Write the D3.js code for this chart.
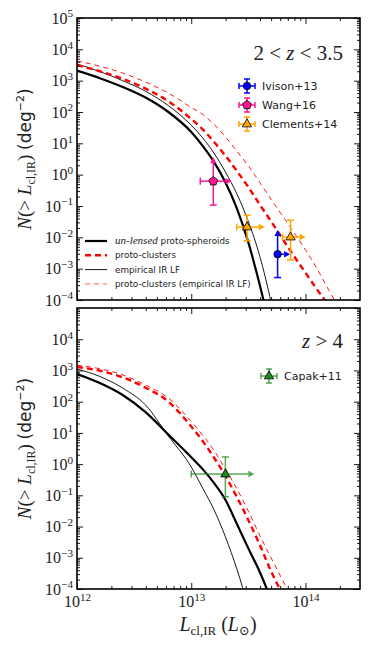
<!DOCTYPE html>
<html>
<head>
<meta charset="utf-8">
<script src="https://cdn.jsdelivr.net/npm/d3@7"></script>
<style>
  body { margin: 0; background: #fff; }
</style>
</head>
<body>
<div id="chart"></div>
<script>
// luminosity grid (L_sun) shared by the model curves
const lumGrid = [1e12, 1.585e12, 2.512e12, 3.981e12, 6.31e12, 1e13, 1.259e13, 1.585e13, 1.995e13,
                 2.512e13, 3.162e13, 3.981e13, 5.012e13, 6.31e13, 7.943e13, 1e14, 1.259e14, 1.585e14, 1.995e14];

// 2 < z < 3.5 : N(>L) in deg^-2
const topSpheroids = [2100, 1200, 630, 290, 100, 23, 8.3, 2.5, 0.56, 0.082, 6.9e-3, 3.0e-4, 1e-5];
const topEmpirical = [3400, 1950, 1000, 460, 160, 38, 15, 4.8, 1.2, 0.24, 0.032, 2.5e-3, 8e-5, 1e-6];
const topClusters = [3150, 2000, 1150, 560, 220, 60, 28, 11, 4.0, 1.3, 0.4, 0.11, 0.032, 8.9e-3, 2.5e-3, 7.4e-4, 2.2e-4, 7e-5, 2e-5];
const topClustersEmp = [4250, 2900, 1750, 900, 400, 140, 83, 40, 16, 5.6, 1.9, 0.56, 0.16, 0.048, 0.014, 4e-3, 1e-3, 2.2e-4, 5e-5];

// z > 4
const botSpheroids = [770, 395, 163, 46, 8.8, 1.66, 0.69, 0.245, 0.071, 0.012, 2.0e-3, 3.5e-4, 4.4e-5];
const botEmpirical = [1110, 640, 273, 78, 7.9, 0.81, 0.17, 0.034, 4.6e-3, 4.3e-4, 2.6e-5];
const botClusters = [1290, 980, 600, 280, 100, 16, 5.5, 1.6, 0.41, 0.087, 0.016, 2.6e-3, 3.6e-4, 6.7e-5];
const botClustersEmp = [1450, 1140, 720, 340, 130, 23, 8.5, 2.7, 0.69, 0.16, 0.031, 5.2e-3, 9.8e-4, 1.9e-4, 3.5e-5];

// observed proto-clusters
const obsNames = ['Ivison+13', 'Wang+16', 'Clements+14', 'Clements+14', 'Capak+11'];
const obsPanel = [0, 0, 0, 0, 1];
const obsL = [5.7e13, 1.56e13, 3.08e13, 7.4e13, 1.99e13];
const obsLlo = [5.7e13, 1.2e13, 2.5e13, 6.3e13, 1.0e13];
const obsLhi = [6.5e13, 2.0e13, 3.9e13, 8.9e13, 3.16e13];
const obsN = [2.9e-3, 0.62, 0.0214, 0.0102, 0.48];
const obsNlo = [5.2e-4, 0.107, 7.7e-3, 1.9e-3, 0.089];
const obsNhi = [0.011, 2.3, 0.051, 0.035, 1.7];
const obsNhiLimit = [true, true, false, false, false];  // lower limits in N (arrow up)
const obsLhiLimit = [true, true, true, true, true];     // lower limits in L (arrow right)

const xMajor = [1e12, 1e13, 1e14];
const yMajor = d3.range(-4, 6).map(e => Math.pow(10, e));

const serif = '"Liberation Serif", "DejaVu Serif", serif';
const sans = '"DejaVu Sans", sans-serif';

const width = 373, height = 648;
const plotLeft = 77, plotRight = 360;
const panels = [
    { top: 18, bottom: 300, label: ['2 < ', 'z', ' < 3.5'], labelY: 60, legend: [0, 1, 2], legendY: 86 },
    { top: 308, bottom: 589, label: ['', 'z', ' > 4'], labelY: 348, legend: [4], legendY: 376 }
];

const obsStyle = {
    'Ivison+13': { shape: 'circle', fill: '#0000ff', bar: '#0000ff' },
    'Wang+16': { shape: 'pentagon', fill: '#ff1493', bar: '#ff1493' },
    'Clements+14': { shape: 'triangle', fill: '#ffa500', bar: '#ffa500' },
    'Capak+11': { shape: 'triangle', fill: '#1f8a1f', bar: 'rgba(34,139,34,0.75)' }
};

const curveStyles = [
    { key: 'spheroids', stroke: '#000', width: 2.2, dash: null },
    { key: 'clusters', stroke: '#ff0000', width: 2.4, dash: '6,4' },
    { key: 'empirical', stroke: '#000', width: 0.9, dash: null },
    { key: 'clustersEmp', stroke: '#ff0000', width: 0.9, dash: '5,4' }
];
const panelCurves = [
    { spheroids: topSpheroids, clusters: topClusters, empirical: topEmpirical, clustersEmp: topClustersEmp },
    { spheroids: botSpheroids, clusters: botClusters, empirical: botEmpirical, clustersEmp: botClustersEmp }
];

const svg = d3.select('#chart').append('svg')
    .attr('width', width)
    .attr('height', height);

const x = d3.scaleLog().domain([1e12, 3e14]).range([plotLeft, plotRight]);

const minorTicks = (lo, hi, maxV) => {
    const out = [];
    for (let e = lo; e <= hi; e++) {
        for (let k = 2; k <= 9; k++) {
            const v = k * Math.pow(10, e);
            if (v < maxV) out.push(v);
        }
    }
    return out;
};
const xMinor = minorTicks(12, 14, 3e14);
const yMinor = minorTicks(-4, 4, 1e5);

const supFormat = (sel, fontSize) => {
    sel.each(function (d) {
        const t = d3.select(this);
        const e = Math.round(Math.log10(d));
        t.text(null);
        t.append('tspan').text('10');
        t.append('tspan').attr('dy', '-0.55em').attr('font-size', fontSize * 0.7)
            .text(String(e).replace('-', '\u2212'));
    });
};

// marker helpers
const markerPath = shape => {
    if (shape === 'circle') return d3.symbol(d3.symbolCircle, 44)();
    if (shape === 'triangle') {
        const r = 5.2;
        return `M0,${-r}L${r * 0.9},${r * 0.55}L${-r * 0.9},${r * 0.55}Z`;
    }
    const r = 4.6;
    const pts = d3.range(5).map(k => {
        const a = -Math.PI / 2 + k * 2 * Math.PI / 5;
        return [r * Math.cos(a), r * Math.sin(a)];
    });
    return 'M' + pts.map(p => p.join(',')).join('L') + 'Z';
};
const arrowHead = (g, x0, y0, dir, color) => {
    const len = 6, hw = 3.2;
    let pts;
    if (dir === 'up') pts = [[x0, y0 - len], [x0 - hw, y0], [x0 + hw, y0]];
    else pts = [[x0 + len, y0], [x0, y0 - hw], [x0, y0 + hw]];
    g.append('path').attr('d', 'M' + pts.map(p => p.join(',')).join('L') + 'Z').attr('fill', color);
};
const capLine = (g, x1, y1, x2, y2, color) => {
    g.append('line').attr('x1', x1).attr('y1', y1).attr('x2', x2).attr('y2', y2)
        .attr('stroke', color).attr('stroke-width', 1.5);
};

panels.forEach((p, pi) => {
    const y = d3.scaleLog().domain([1e-4, 1e5]).range([p.bottom, p.top]);
    const g = svg.append('g').attr('class', 'panel');

    const clipId = 'clip' + pi;
    svg.append('clipPath').attr('id', clipId)
        .append('rect').attr('x', plotLeft).attr('y', p.top)
        .attr('width', plotRight - plotLeft).attr('height', p.bottom - p.top);

    // model curves
    const line = d3.line()
        .x(d => x(d[0]))
        .y(d => y(d[1]))
        .curve(d3.curveMonotoneX);
    const curves = panelCurves[pi];
    ['clustersEmp', 'empirical', 'clusters', 'spheroids'].forEach(key => {
        const st = curveStyles.find(c => c.key === key);
        const pts = curves[key].map((v, i) => [lumGrid[i], v]);
        g.append('path')
            .attr('clip-path', `url(#${clipId})`)
            .attr('d', line(pts))
            .attr('fill', 'none')
            .attr('stroke', st.stroke)
            .attr('stroke-width', st.width)
            .attr('stroke-dasharray', st.dash);
    });

    // observations
    obsNames.forEach((name, i) => {
        if (obsPanel[i] !== pi) return;
        const st = obsStyle[name];
        const cx = x(obsL[i]), cy = y(obsN[i]);
        const eg = g.append('g');
        // horizontal bar
        const xl = x(obsLlo[i]), xh = x(obsLhi[i]);
        capLine(eg, xl, cy, xh, cy, st.bar);
        if (obsLlo[i] < obsL[i]) capLine(eg, xl, cy - 3.5, xl, cy + 3.5, st.bar);
        if (obsLhiLimit[i]) arrowHead(eg, xh, cy, 'right', st.bar);
        // vertical bar
        const yl = y(obsNlo[i]), yh = y(obsNhi[i]);
        capLine(eg, cx, yl, cx, yh, st.bar);
        capLine(eg, cx - 3.5, yl, cx + 3.5, yl, st.bar);
        if (obsNhiLimit[i]) arrowHead(eg, cx, yh, 'up', st.bar);
        else capLine(eg, cx - 3.5, yh, cx + 3.5, yh, st.bar);
        eg.append('path')
            .attr('d', markerPath(st.shape))
            .attr('transform', `translate(${cx},${cy})`)
            .attr('fill', st.fill)
            .attr('stroke', '#000')
            .attr('stroke-width', 0.8);
    });

    // axes: ticks pointing inward on all four sides
    const left = g.append('g').attr('transform', `translate(${plotLeft},0)`)
        .call(d3.axisLeft(y).tickValues(yMajor.filter(v => pi === 0 || v < 1e5)).tickSize(-6).tickPadding(4).tickSizeOuter(0));
    left.selectAll('.tick text').attr('font-family', serif).attr('font-size', 16).attr('fill', '#222')
        .call(supFormat, 16);
    g.append('g').attr('transform', `translate(${plotLeft},0)`)
        .call(d3.axisLeft(y).tickValues(yMinor).tickSize(-3).tickFormat('').tickSizeOuter(0));
    g.append('g').attr('transform', `translate(${plotRight},0)`)
        .call(d3.axisRight(y).tickValues(yMajor).tickSize(-6).tickFormat('').tickSizeOuter(0));
    g.append('g').attr('transform', `translate(${plotRight},0)`)
        .call(d3.axisRight(y).tickValues(yMinor).tickSize(-3).tickFormat('').tickSizeOuter(0));

    const bottom = g.append('g').attr('transform', `translate(0,${p.bottom})`)
        .call(d3.axisBottom(x).tickValues(xMajor).tickSize(-6).tickPadding(7).tickSizeOuter(0)
            .tickFormat(pi === 1 ? null : ''));
    if (pi === 1) {
        bottom.selectAll('.tick text').attr('font-family', serif).attr('font-size', 16).attr('fill', '#222')
            .call(supFormat, 16);
    }
    g.append('g').attr('transform', `translate(0,${p.bottom})`)
        .call(d3.axisBottom(x).tickValues(xMinor).tickSize(-3).tickFormat('').tickSizeOuter(0));
    g.append('g').attr('transform', `translate(0,${p.top})`)
        .call(d3.axisTop(x).tickValues(xMajor).tickSize(-6).tickFormat('').tickSizeOuter(0));
    g.append('g').attr('transform', `translate(0,${p.top})`)
        .call(d3.axisTop(x).tickValues(xMinor).tickSize(-3).tickFormat('').tickSizeOuter(0));
    g.selectAll('.domain').remove();
    g.selectAll('.tick line').attr('stroke', '#000').attr('stroke-width', 0.9);

    g.append('rect')
        .attr('x', plotLeft).attr('y', p.top)
        .attr('width', plotRight - plotLeft).attr('height', p.bottom - p.top)
        .attr('fill', 'none').attr('stroke', '#000').attr('stroke-width', 1.6);

    // redshift label
    const lab = g.append('text')
        .attr('x', 343).attr('y', p.labelY)
        .attr('text-anchor', 'end')
        .attr('font-family', serif).attr('font-size', 21).attr('fill', '#222');
    lab.append('tspan').text(p.label[0]);
    lab.append('tspan').attr('font-style', 'italic').text(p.label[1]);
    lab.append('tspan').text(p.label[2]);

    // data legend
    const lx = pi === 0 ? 247 : 269;
    p.legend.forEach((i, k) => {
        const st = obsStyle[obsNames[i]];
        const ly = p.legendY + k * 19;
        const lg = g.append('g');
        capLine(lg, lx - 8, ly, lx + 8, ly, st.bar);
        capLine(lg, lx - 8, ly - 3, lx - 8, ly + 3, st.bar);
        capLine(lg, lx + 8, ly - 3, lx + 8, ly + 3, st.bar);
        capLine(lg, lx, ly - 7, lx, ly + 7, st.bar);
        capLine(lg, lx - 3, ly - 7, lx + 3, ly - 7, st.bar);
        capLine(lg, lx - 3, ly + 7, lx + 3, ly + 7, st.bar);
        lg.append('path').attr('d', markerPath(st.shape))
            .attr('transform', `translate(${lx},${ly})`)
            .attr('fill', st.fill).attr('stroke', '#000').attr('stroke-width', 0.8);
        lg.append('text').attr('x', lx + 15).attr('y', ly).attr('dy', '0.36em')
            .attr('font-family', sans).attr('font-size', 11).attr('fill', '#222')
            .text(obsNames[i]);
    });
});

// model legend (top panel)
const modelLegend = [
    { key: 'spheroids', label: [['un-lensed', true], [' proto-spheroids', false]] },
    { key: 'clusters', label: [['proto-clusters', false]] },
    { key: 'empirical', label: [['empirical IR LF', false]] },
    { key: 'clustersEmp', label: [['proto-clusters (empirical IR LF)', false]] }
];
modelLegend.forEach((m, k) => {
    const st = curveStyles.find(c => c.key === m.key);
    const ly = 241 + k * 14.3;
    svg.append('line').attr('x1', 85).attr('x2', 107).attr('y1', ly).attr('y2', ly)
        .attr('stroke', st.stroke).attr('stroke-width', st.width)
        .attr('stroke-dasharray', st.dash)
        .attr('opacity', m.key === 'clustersEmp' ? 0.7 : 1);
    const t = svg.append('text').attr('x', 115).attr('y', ly).attr('dy', '0.35em')
        .attr('font-size', 8.8).attr('fill', '#222');
    m.label.forEach(([s, it]) => {
        t.append('tspan')
            .attr('font-family', it ? serif : sans)
            .attr('font-style', it ? 'italic' : null)
            .attr('font-size', it ? 11 : null)
            .text(s);
    });
});

// y axis labels
panels.forEach(p => {
    const cy = (p.top + p.bottom) / 2;
    const t = svg.append('text')
        .attr('transform', `translate(31,${cy}) rotate(-90)`)
        .attr('text-anchor', 'middle')
        .attr('font-family', serif).attr('font-size', 19).attr('fill', '#222');
    t.append('tspan').attr('font-style', 'italic').text('N');
    t.append('tspan').text('(> ');
    t.append('tspan').attr('font-style', 'italic').text('L');
    t.append('tspan').attr('font-size', 12).attr('dy', 4).text('cl,IR');
    t.append('tspan').attr('dy', -4).text(') ');
    t.append('tspan').attr('font-family', sans).attr('font-size', 17).text('(deg');
    t.append('tspan').attr('font-family', sans).attr('font-size', 11).attr('dy', -7).text('\u22122');
    t.append('tspan').attr('font-family', sans).attr('font-size', 17).attr('dy', 7).text(')');
});

// x axis label
const xl = svg.append('text')
    .attr('x', 218).attr('y', 631)
    .attr('text-anchor', 'middle')
    .attr('font-family', serif).attr('font-size', 20).attr('fill', '#222');
xl.append('tspan').attr('font-style', 'italic').text('L');
xl.append('tspan').attr('font-size', 13).attr('dy', 4).text('cl,IR');
xl.append('tspan').attr('dy', -4).text(' (');
xl.append('tspan').attr('font-style', 'italic').text('L');
xl.append('tspan').attr('font-size', 13).attr('dy', 4).text('\u2299');
xl.append('tspan').attr('dy', -4).text(')');
</script>
</body>
</html>
